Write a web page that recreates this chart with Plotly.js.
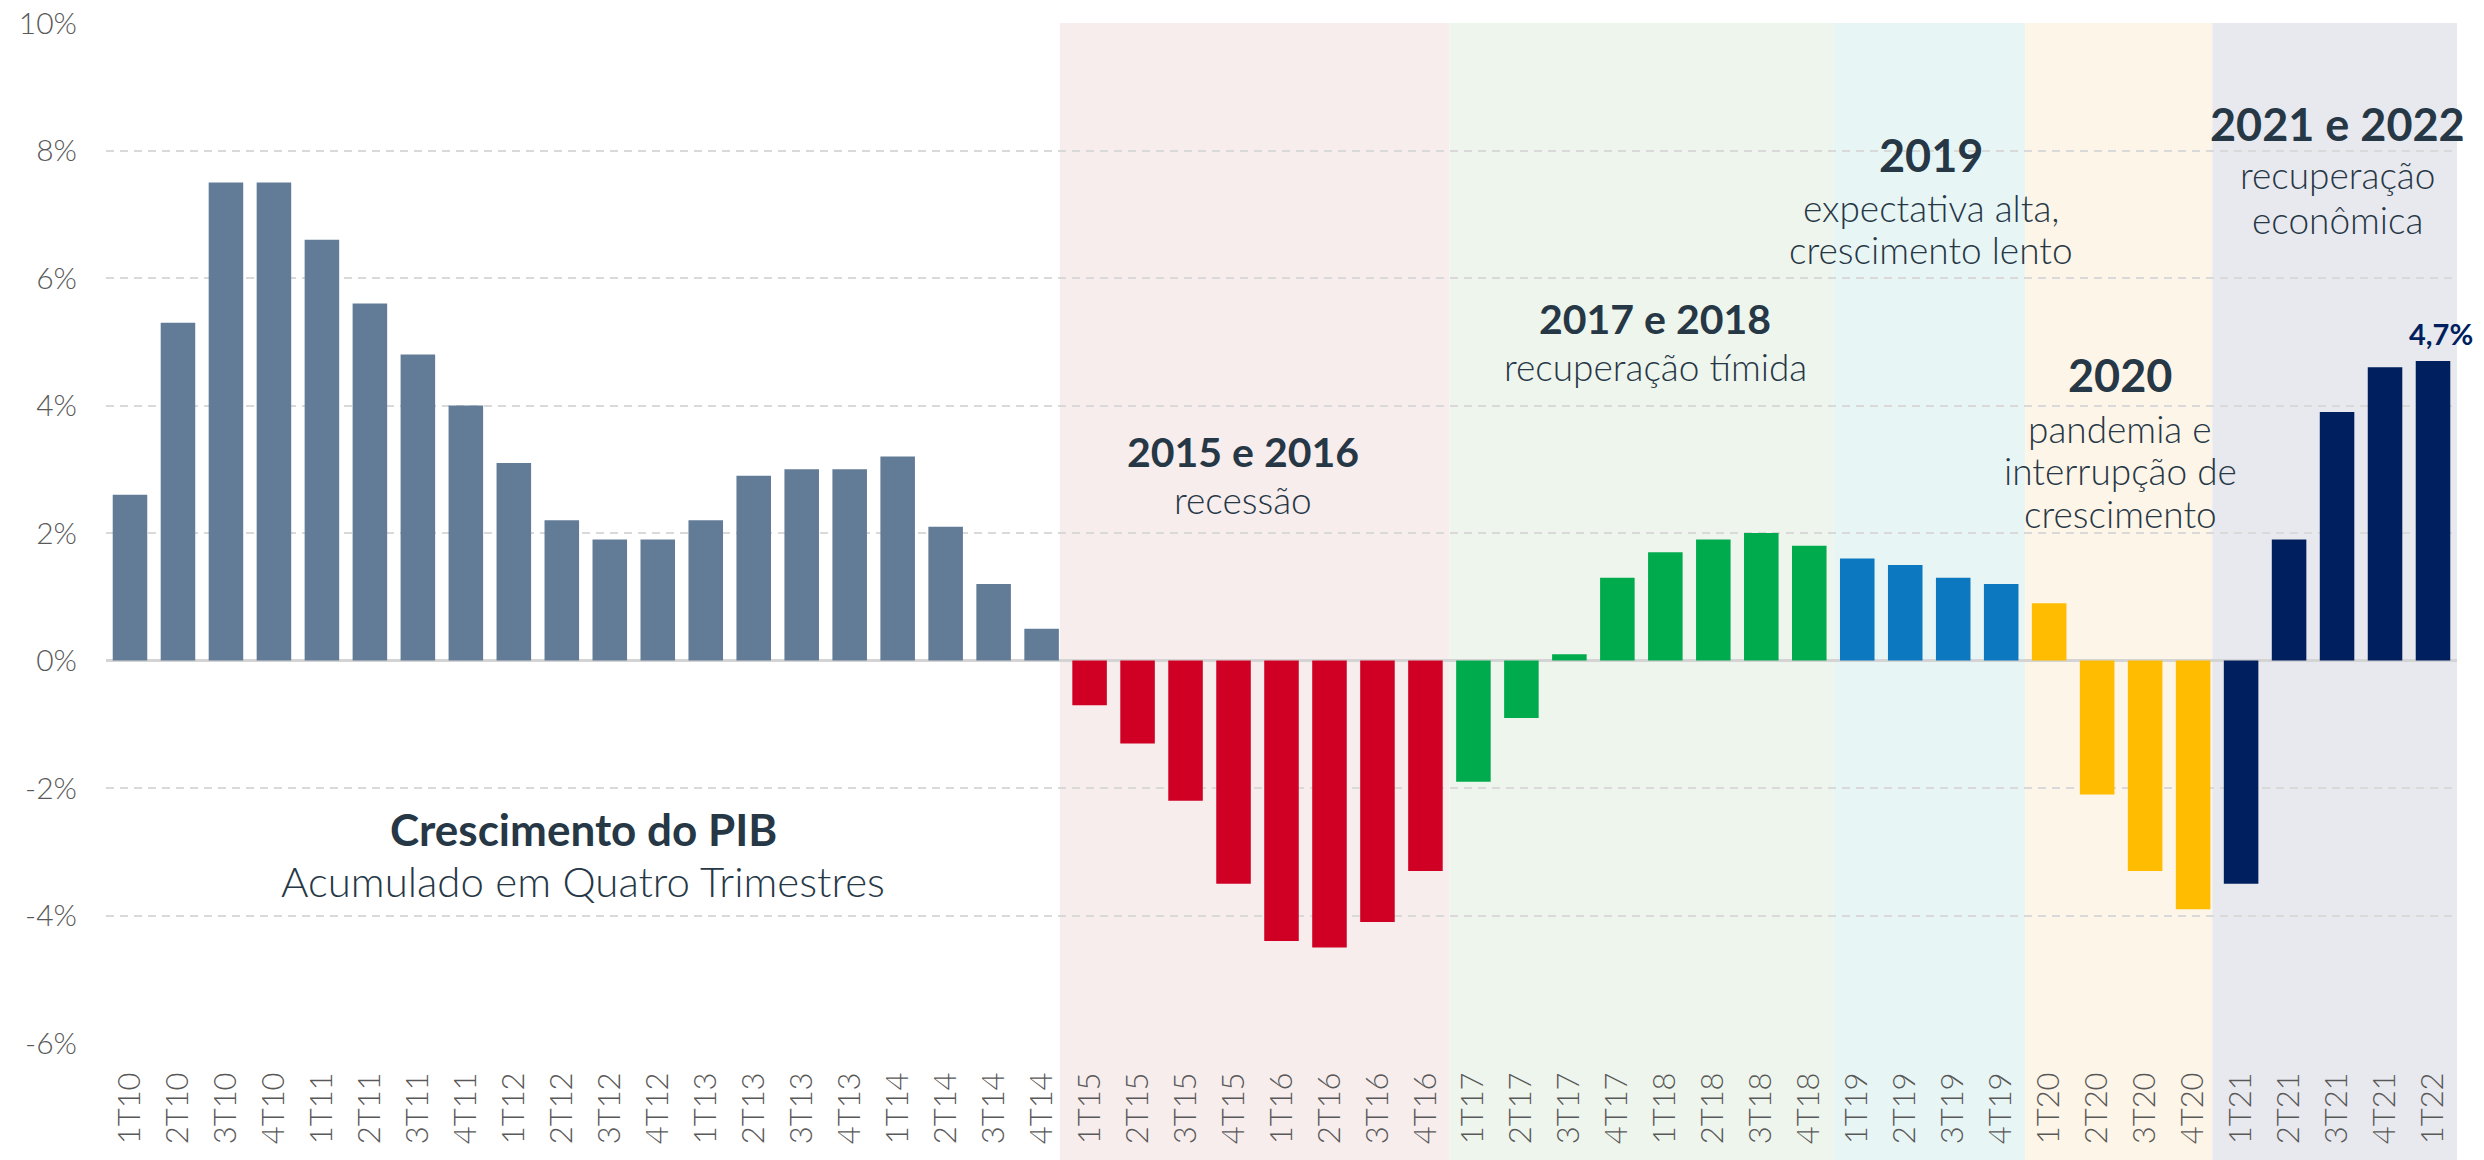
<!DOCTYPE html>
<html>
<head>
<meta charset="utf-8">
<script src="https://cdn.plot.ly/plotly-3.0.1.min.js"></script>
<style>html,body{margin:0;padding:0;background:#fff;}#chart{width:2484px;height:1160px;}</style>
</head>
<body>
<div id="chart"></div>
<script>
const categories = [
  "1T10","2T10","3T10","4T10","1T11","2T11","3T11","4T11","1T12","2T12","3T12","4T12",
  "1T13","2T13","3T13","4T13","1T14","2T14","3T14","4T14",
  "1T15","2T15","3T15","4T15","1T16","2T16","3T16","4T16",
  "1T17","2T17","3T17","4T17","1T18","2T18","3T18","4T18",
  "1T19","2T19","3T19","4T19",
  "1T20","2T20","3T20","4T20",
  "1T21","2T21","3T21","4T21","1T22"
];
const values = [
  2.6,5.3,7.5,7.5,6.6,5.6,4.8,4.0,3.1,2.2,1.9,1.9,
  2.2,2.9,3.0,3.0,3.2,2.1,1.2,0.5,
  -0.7,-1.3,-2.2,-3.5,-4.4,-4.5,-4.1,-3.3,
  -1.9,-0.9,0.1,1.3,1.7,1.9,2.0,1.8,
  1.6,1.5,1.3,1.2,
  0.9,-2.1,-3.3,-3.9,
  -3.5,1.9,3.9,4.6,4.7
];
const yTicks = [-6,-4,-2,0,2,4,6,8,10];
const yTickLabels = ["-6%","-4%","-2%","0%","2%","4%","6%","8%","10%"];

// periods
const periodStart = ["1T10","1T15","1T17","1T19","1T20","1T21"];
const periodEnd   = ["4T14","4T16","4T18","4T19","4T20","1T22"];
const periodTitle = [null,"2015 e 2016","2017 e 2018","2019","2020","2021 e 2022"];
const periodSub   = [null,["recessão"],["recuperação tímida"],["expectativa alta,","crescimento lento"],
                     ["pandemia e","interrupção de","crescimento"],["recuperação","econômica"]];
const chartTitle = "Crescimento do PIB";
const chartSubtitle = "Acumulado em Quatro Trimestres";

// styling
const barColors   = ["#627C97","#D00024","#00AB4E","#0C78C0","#FFBC00","#001F5E"];
const bandColors  = [null,"#F7EDED","#EEF5ED","#E8F5F5","#FDF5E8","#E8E9EE"];
const bandShift   = [0,-0.12,0,0,0,-0.1];
const titleSize   = [0,41,41,45,45,45];
const titlePx     = [0,1243,1655,1931,2120,2337];
const titlePy     = [0,451,318,155,375,124];
const subPy       = [null,[499],[366],[207,249],[428,470,513],[174,219]];

const W = 2484, H = 1160;
const M = {l:106, r:27, t:23, b:117};
const yMin = -6, yMax = 10;
const plotW = W - M.l - M.r, plotH = H - M.t - M.b;
const py2data = p => yMax - (p - M.t) / plotH * (yMax - yMin);
const px2paper = p => (p - M.l) / plotW;

const idx = c => categories.indexOf(c);
const colors = categories.map((c, i) => {
  for (let k = 0; k < periodStart.length; k++) {
    if (i >= idx(periodStart[k]) && i <= idx(periodEnd[k])) return barColors[k];
  }
  return barColors[0];
});

const n = categories.length;
const shapes = [];
for (let k = 1; k < periodStart.length; k++) {
  const x0 = (idx(periodStart[k]) + bandShift[k]) / n;
  const x1 = (idx(periodEnd[k]) + 1 + (k + 1 < periodStart.length ? bandShift[k + 1] : 0)) / n;
  shapes.push({type:'rect', xref:'paper', yref:'paper', x0:x0, x1:x1, y0:-M.b/plotH, y1:1,
    fillcolor:bandColors[k], line:{width:0}, layer:'below'});
}

const FONT = "Lato, 'Open Sans', sans-serif";
const dark = "#263746";
const annotations = [];
for (let k = 1; k < periodStart.length; k++) {
  annotations.push({xref:'paper', yref:'y', x:px2paper(titlePx[k]), y:py2data(titlePy[k]),
    text:'<b>'+periodTitle[k]+'</b>', showarrow:false, xanchor:'center', yanchor:'middle',
    font:{family:FONT, size:titleSize[k], color:dark}});
  periodSub[k].forEach((line, j) => {
    annotations.push({xref:'paper', yref:'y', x:px2paper(titlePx[k]), y:py2data(subPy[k][j]),
      text:line, showarrow:false, xanchor:'center', yanchor:'middle',
      font:{family:FONT, size:37, color:dark, weight:300}});
  });
}
annotations.push({xref:'paper', yref:'y', x:px2paper(583), y:py2data(829), text:'<b>'+chartTitle+'</b>',
  showarrow:false, xanchor:'center', yanchor:'middle', font:{family:FONT, size:44, color:dark}});
annotations.push({xref:'paper', yref:'y', x:px2paper(583), y:py2data(881), text:chartSubtitle,
  showarrow:false, xanchor:'center', yanchor:'middle', font:{family:FONT, size:42, color:dark, weight:300}});
const lastI = n - 1;
annotations.push({xref:'x', yref:'y', x:categories[lastI], y:values[lastI],
  text:'<b>' + values[lastI].toFixed(1).replace('.', ',') + '%</b>',
  showarrow:false, xanchor:'center', yanchor:'bottom', yshift:8, xshift:8,
  font:{family:FONT, size:29, color:'#001F5E'}});

const trace = {
  type:'bar', x:categories, y:values,
  marker:{color:colors, line:{width:0}},
  hoverinfo:'x+y'
};

const layout = {
  width:W, height:H,
  margin:M,
  paper_bgcolor:'#ffffff', plot_bgcolor:'rgba(0,0,0,0)',
  bargap:0.28,
  showlegend:false,
  font:{family:FONT, color:'#595959'},
  xaxis:{
    type:'category', range:[-0.5, n - 0.5], tickangle:-90,
    tickfont:{family:FONT, size:31, color:'#595959', weight:300},
    showgrid:false, zeroline:false, showline:false,
    ticks:'outside', ticklen:16, tickcolor:'rgba(0,0,0,0)', fixedrange:true
  },
  yaxis:{
    range:[yMin, yMax], tickmode:'array', tickvals:yTicks, ticktext:yTickLabels,
    tickfont:{family:FONT, size:30, color:'#595959', weight:300},
    showgrid:true, gridcolor:'#d9d9d9', gridwidth:2, griddash:'8px,6px',
    zeroline:true, zerolinecolor:'#d4d4d4', zerolinewidth:3,
    showline:false, ticks:'outside', ticklen:22, tickcolor:'rgba(0,0,0,0)', fixedrange:true
  },
  shapes:shapes,
  annotations:annotations
};

Plotly.newPlot('chart', [trace], layout, {displayModeBar:false, staticPlot:true});
</script>
</body>
</html>
